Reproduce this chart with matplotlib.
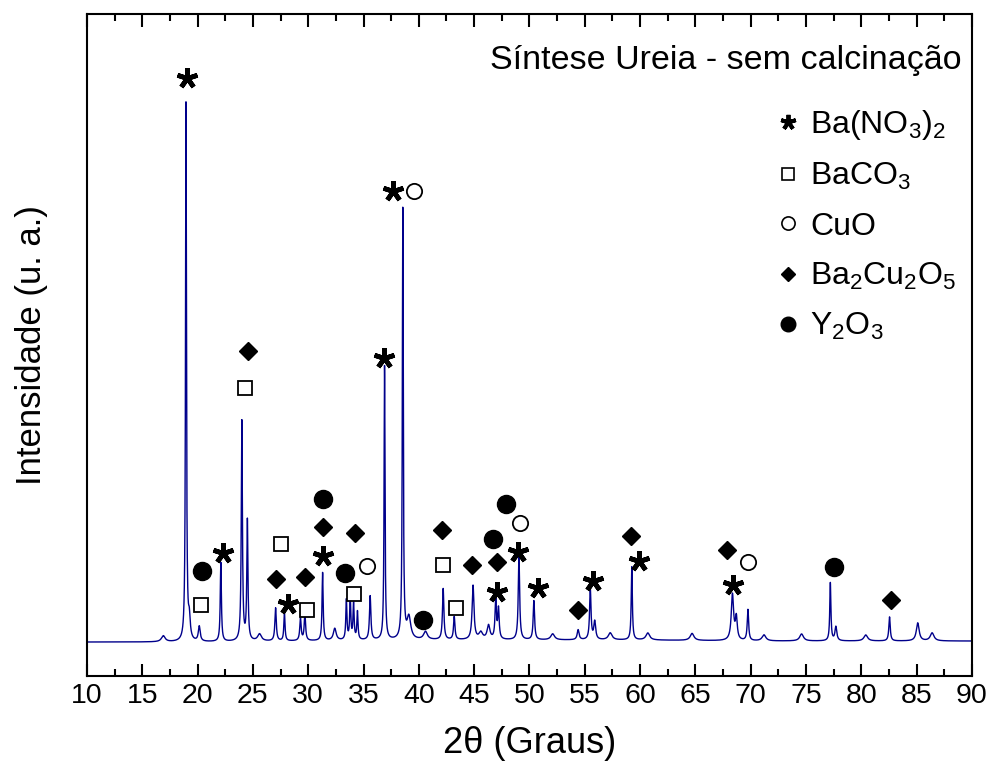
import numpy as np
import matplotlib.pyplot as plt
from matplotlib.lines import Line2D

plt.rcParams['font.family'] = ['Liberation Sans', 'DejaVu Sans']
plt.rcParams['mathtext.default'] = 'regular'

# Reflexões: posição 2theta, altura (u. a.), largura (graus)
pico_pos = [18.95, 19.25, 20.15, 22.10, 24.00, 24.50, 27.05, 27.85, 29.30, 29.70,
            31.30, 32.40, 33.45, 33.80, 34.10, 34.45, 35.60, 36.90, 38.55, 39.10,
            42.20, 43.20, 44.90, 46.30, 46.95, 47.20, 49.05, 50.40, 54.40, 55.50,
            55.90, 59.25, 68.35, 68.70, 69.75, 77.20, 77.70, 82.55, 85.10,
            16.90, 25.60, 40.60, 45.60, 52.10, 57.30, 60.70, 64.70,
            71.20, 74.60, 80.40, 86.40]
pico_alt = [538, 20, 15, 79, 220, 120, 33, 29, 22, 26,
            68, 12, 40, 42, 36, 28, 44, 274, 430, 22,
            51, 23, 54, 14, 40, 30, 83, 39, 10, 51,
            18, 73, 46, 22, 31, 58, 14, 24, 18,
            6, 7, 8, 7, 6, 7, 7, 7,
            6, 7, 6, 8]
pico_larg = [0.10, 0.20, 0.20, 0.12, 0.12, 0.12, 0.15, 0.12, 0.15, 0.15,
             0.12, 0.30, 0.12, 0.12, 0.12, 0.12, 0.15, 0.10, 0.10, 0.40,
             0.15, 0.15, 0.20, 0.30, 0.15, 0.15, 0.15, 0.15, 0.20, 0.15,
             0.20, 0.12, 0.25, 0.20, 0.15, 0.12, 0.20, 0.15, 0.30,
             0.40, 0.40, 0.40, 0.40, 0.40, 0.40, 0.40, 0.40,
             0.40, 0.40, 0.40, 0.40]

# linha de base medida (nível médio do fundo)
base_x = [10, 20, 30, 40, 50, 60, 70, 80, 90]
base_y = [3, 3, 4, 5, 5, 5, 4, 4, 4]

# marcadores de fases (2theta, altura em u. a.)
ast_x = [19.05, 22.3, 28.2, 31.3, 36.85, 37.65, 47.05, 48.95, 50.77, 55.75, 59.9, 68.4]
ast_y = [567, 92, 41, 89, 287, 454, 53, 93, 57, 64, 84, 60]
sq_x = [20.3, 24.3, 27.5, 29.9, 34.1, 42.2, 43.4]
sq_y = [40, 257, 101, 35, 51, 80, 37]
oc_x = [35.3, 39.55, 49.15, 69.75]
oc_y = [79, 454, 122, 83]
dm_x = [24.55, 27.1, 29.75, 31.3, 34.2, 42.1, 44.8, 47.05, 54.4, 59.2, 67.85, 82.7]
dm_y = [294, 66, 68, 118, 112, 115, 80, 83, 35, 109, 95, 45]
fc_x = [20.4, 31.35, 33.3, 40.4, 46.7, 47.9, 77.5]
fc_y = [74, 146, 72, 25, 106, 141, 78]

fases = ['Ba(NO$_3$)$_2$', 'BaCO$_3$', 'CuO', 'Ba$_2$Cu$_2$O$_5$', 'Y$_2$O$_3$']

# perfil do difratograma a partir da tabela de picos
x = np.arange(10, 90.0001, 0.01)
y = np.interp(x, base_x, base_y)
for p, a, w in zip(pico_pos, pico_alt, pico_larg):
    g = (w / 2) ** 2
    y = y + a * g / ((x - p) ** 2 + g)

fig = plt.figure(figsize=(9.94, 7.67), dpi=100)
ax = fig.add_axes([0.0875, 0.1186, 0.8903, 0.863])
ax.plot(x, y, color='#00008B', linewidth=1.0)

kw = dict(linestyle='none', color='black')
ax.plot(ast_x, ast_y, marker=(5, 2, 0), markersize=15, markeredgewidth=3.4, **kw)
ax.plot(sq_x, sq_y, marker='s', markersize=10, markerfacecolor='white',
        markeredgewidth=1.3, **kw)
ax.plot(oc_x, oc_y, marker='o', markersize=11, markerfacecolor='white',
        markeredgewidth=1.3, **kw)
ax.plot(dm_x, dm_y, marker='D', markersize=9.5, **kw)
ax.plot(fc_x, fc_y, marker='o', markersize=13, **kw)

ax.set_xlim(10, 90)
ax.set_ylim(-31, 631)
ax.set_xticks(np.arange(10, 91, 5))
ax.set_xticks(np.arange(12.5, 90, 5), minor=True)
ax.set_yticks([])
ax.tick_params(axis='x', which='both', direction='in', top=True, labelsize=20.5,
               width=1.5, pad=5)
ax.tick_params(axis='x', which='major', length=9)
ax.tick_params(axis='x', which='minor', length=5)
for s in ax.spines.values():
    s.set_linewidth(1.5)

ax.set_xlabel('2θ (Graus)', fontsize=26, labelpad=12)
ax.set_ylabel('Intensidade (u. a.)', fontsize=25, labelpad=28)

ax.text(0.988, 0.93, 'Síntese Ureia - sem calcinação', transform=ax.transAxes,
        ha='right', va='center', fontsize=24.5)

handles = [
    Line2D([], [], marker=(5, 2, 0), markersize=11, markeredgewidth=2.8, **kw),
    Line2D([], [], marker='s', markersize=9, markerfacecolor='white', markeredgewidth=1.2, **kw),
    Line2D([], [], marker='o', markersize=9.5, markerfacecolor='white', markeredgewidth=1.2, **kw),
    Line2D([], [], marker='D', markersize=7.5, **kw),
    Line2D([], [], marker='o', markersize=10.5, **kw),
]
ax.legend(handles, fases, loc='upper left', bbox_to_anchor=(0.776, 0.858),
          frameon=False, fontsize=23, handlelength=0.9, handletextpad=0.25,
          labelspacing=0.6, borderpad=0, borderaxespad=0)

fig.savefig('out.png', dpi=100)
